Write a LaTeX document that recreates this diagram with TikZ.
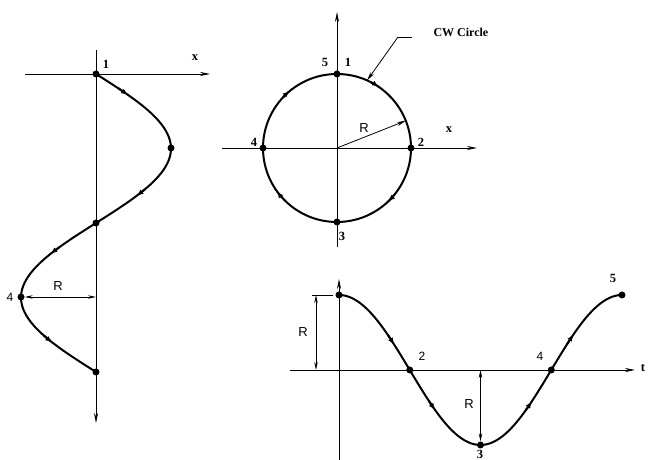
\documentclass[tikz,border=0pt]{standalone}
\usepackage{fontspec}
\setmainfont{Liberation Serif}
\newfontfamily\sansR{Liberation Sans}
\usetikzlibrary{arrows.meta}
\begin{document}
\begin{tikzpicture}[x=1pt,y=1pt,
  axis/.style={line width=0.8pt},
  axarrow/.style={axis,-{Stealth[length=10pt,width=4pt]}},
  curve/.style={line width=2pt},
  flow/.style={line width=2pt,-{Latex[length=6.5pt,width=5.5pt]}},
  dot/.style={circle,fill=black,inner sep=0pt,minimum size=7pt},
  lab/.style={font=\fontsize{12.5}{14}\selectfont\bfseries},
  slab/.style={font=\sansR\fontsize{13}{15}\selectfont},
  nlab/.style={font=\sansR\fontsize{12}{14}\selectfont},
  dim/.style={line width=0.8pt,{Stealth[length=8pt,width=3.5pt]}-{Stealth[length=8pt,width=3.5pt]}}
]
\fill[white] (0,0) rectangle (648,460);
\useasboundingbox (0,0) rectangle (648,460);

% ---------- left figure ----------
\draw[axis] (25,386) -- (96,386);
\draw[axarrow] (96,386) -- (210,386);
\draw[axarrow] (96,410) -- (96,37);
\draw[curve] plot[domain=0:360,samples=91,smooth] ({96+75*sin(\x)},{386-0.827778*\x});
\foreach \a in {25,147,217,324}
  \draw[flow] plot[domain={\a-8}:\a,samples=5] ({96+75*sin(\x)},{386-0.827778*\x});
\node[dot] (L1) at (96,386) {};
\node[dot] (L2) at (171,312) {};
\node[dot] (L3) at (96,237) {};
\node[dot] (L4) at (21,163) {};
\node[dot] (L5) at (96,88) {};
\coordinate (LR) at (96,163);
\draw[dim] (L4) -- (LR);
\node[lab] (l1) at (106,396) {1};
\node[lab] (lx) at (195,402) {x};
\node[slab] (lR) at (58,174) {R};
\node[nlab] (l4) at (10,163) {4};

% ---------- circle ----------
\coordinate (C) at (337,312);
\draw[axis] (222,312) -- (337,312);
\draw[axarrow] (337,312) -- (477,312);
\draw[axis] (337,213) -- (337,312);
\draw[axarrow] (337,312) -- (337,448);
\draw[curve] (C) circle[radius=74];
\foreach \a in {56,-46,-144,130}
  \draw[flow] (C) ++({\a+7}:74) arc[start angle={\a+7},end angle=\a,radius=74];
\node[dot] (C1) at (337,386) {};
\node[dot] (C2) at (411,312) {};
\node[dot] (C3) at (337,238) {};
\node[dot] (C4) at (263,312) {};
\path (C) ++(21.6:74) coordinate (CR);
\draw[axis,-{Stealth[length=9pt,width=4pt]}] (C) -- (CR);
\path (C) ++(66:74) coordinate (Ltip);
\coordinate (Lk) at (398,423);
\coordinate (Le) at (412,423);
\draw[axis,-{Stealth[length=9pt,width=4pt]}] (Lk) -- (Ltip);
\draw[axis] (Lk) -- (Le);
\node[font=\fontsize{12}{14}\selectfont\bfseries,anchor=west] (cw) at (430,428) {CW Circle};
\node[lab] (c5) at (325,398) {5};
\node[lab] (c1) at (348,398) {1};
\node[lab] (c2) at (421,318) {2};
\node[lab] (c4) at (254,318) {4};
\node[lab] (c3) at (342,224) {3};
\node[lab] (cx) at (449,330) {x};
\node[slab] (cR) at (364,332) {R};

% ---------- bottom right graph ----------
\draw[axis] (290,90) -- (339,90);
\draw[axarrow] (339,90) -- (635,90);
\draw[axis] (339,0) -- (339,90);
\draw[axarrow] (339,90) -- (339,181);
\draw[curve] plot[domain=0:360,samples=91,smooth] ({339+0.786111*\x},{90+75*cos(\x)});
\foreach \a in {70,122,245,298}
  \draw[flow] plot[domain={\a-8}:\a,samples=5] ({339+0.786111*\x},{90+75*cos(\x)});
\node[dot] (B1) at (339,165) {};
\node[dot] (B2) at (409.75,90) {};
\node[dot] (B3) at (480.5,15) {};
\node[dot] (B4) at (551.25,90) {};
\node[dot] (B5) at (622,165) {};
\coordinate (D1a) at (316,165);
\coordinate (D1b) at (316,90);
\draw[dim] (D1a) -- (D1b);
\coordinate (E1) at (312,165);
\coordinate (E2) at (333,165);
\draw[axis] (E1) -- (E2);
\coordinate (D2a) at (480.5,90);
\draw[dim] (D2a) -- (B3);
\node[slab] (bR1) at (303,128) {R};
\node[slab] (bR2) at (469,56) {R};
\node[nlab] (b2) at (422,104) {2};
\node[nlab] (b4) at (540,104) {4};
\node[lab] (b5) at (613,182) {5};
\node[lab,inner sep=0pt,anchor=south] (b3) at (480,1.5) {3};
\node[lab,inner sep=0pt] (bt) at (643,92) {t};
\end{tikzpicture}
\end{document}
